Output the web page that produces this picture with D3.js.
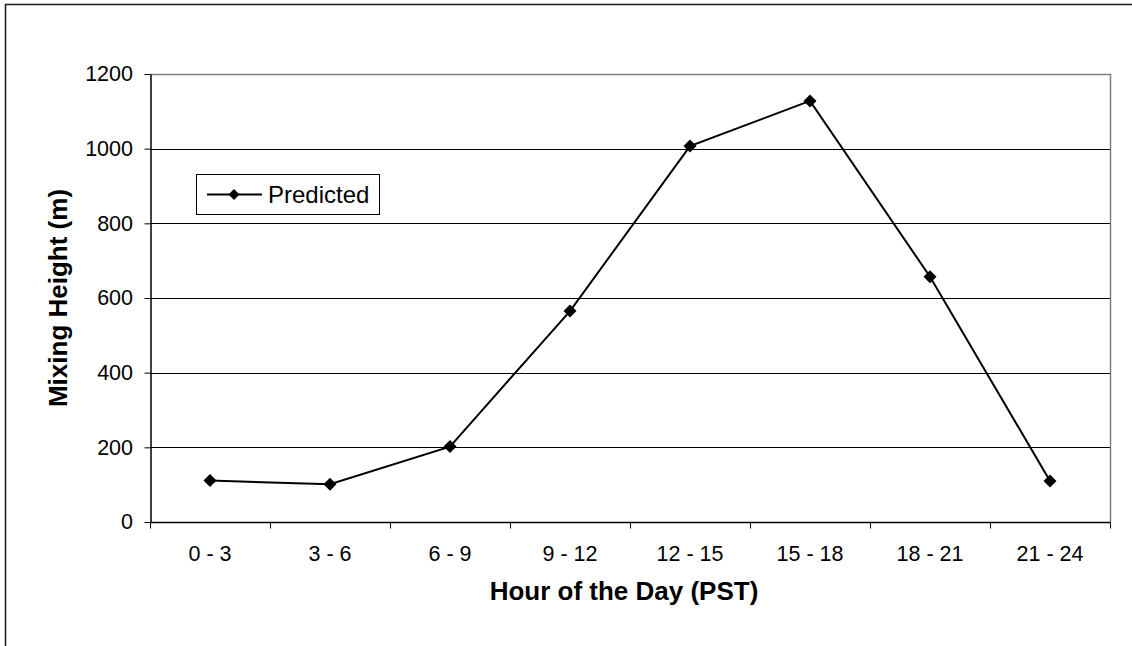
<!DOCTYPE html>
<html>
<head>
<meta charset="utf-8">
<script src="https://cdn.jsdelivr.net/npm/d3@7"></script>
<style>
  html, body { margin: 0; padding: 0; background: #fff; }
  svg { display: block; font-family: Arial, "Liberation Sans", sans-serif; }
</style>
</head>
<body>
<svg id="chart" width="1132" height="646"></svg>
<script>
// Mixing height by three-hour period
const periods = ["0 - 3", "3 - 6", "6 - 9", "9 - 12", "12 - 15", "15 - 18", "18 - 21", "21 - 24"];
const predicted = [111, 101, 202, 565, 1007, 1128, 657, 110];
const yTicks = [0, 200, 400, 600, 800, 1000, 1200];
const seriesName = "Predicted";

const FONT = "Arial, 'Liberation Sans', sans-serif";
const svg = d3.select("#chart");
const plot = { left: 150, right: 1110, top: 74, bottom: 522 };

// Outer chart frame
svg.append("rect")
  .attr("x", 5.5).attr("y", 4.5)
  .attr("width", 1140).attr("height", 660)
  .attr("fill", "none").attr("stroke", "#222").attr("stroke-width", 1.6);

const x = d3.scaleBand().domain(periods).range([plot.left, plot.right]);
const y = d3.scaleLinear().domain([0, 1200]).range([plot.bottom, plot.top]);

// Horizontal gridlines
svg.append("g").selectAll("line")
  .data(yTicks.filter(t => t > 0 && t < 1200))
  .join("line")
  .attr("x1", plot.left).attr("x2", plot.right)
  .attr("y1", d => Math.round(y(d)) + 0.5).attr("y2", d => Math.round(y(d)) + 0.5)
  .attr("stroke", "#000").attr("stroke-width", 1);

// Plot area top and right edges
svg.append("path")
  .attr("d", `M${plot.left},${plot.top + 0.5}H${plot.right + 0.5}V${plot.bottom}`)
  .attr("fill", "none").attr("stroke", "#808080").attr("stroke-width", 1.5);

// Y axis
const yAxis = svg.append("g")
  .attr("transform", `translate(${plot.left + 0.5},0)`)
  .call(d3.axisLeft(y).tickValues(yTicks).tickFormat(d3.format("d"))
    .tickSize(6).tickPadding(11.5).tickSizeOuter(0));
yAxis.attr("font-size", null).attr("font-family", null);
yAxis.select(".domain").attr("stroke", "#000").attr("stroke-width", 1.5);
yAxis.selectAll(".tick line").attr("stroke", "#000");
yAxis.selectAll("text").attr("font-size", 21.5).attr("fill", "#000")
  .attr("font-family", FONT);

// X axis with ticks at category boundaries
const xAxisG = svg.append("g")
  .attr("transform", `translate(0,${plot.bottom + 0.5})`);
xAxisG.append("line")
  .attr("x1", plot.left).attr("x2", plot.right + 0.5)
  .attr("stroke", "#000").attr("stroke-width", 1.5);
const bounds = periods.map(p => x(p)).concat([plot.right]);
xAxisG.selectAll(".btick").data(bounds).join("line")
  .attr("class", "btick")
  .attr("x1", d => Math.round(d) + 0.5).attr("x2", d => Math.round(d) + 0.5)
  .attr("y1", 0).attr("y2", 6)
  .attr("stroke", "#000");
xAxisG.selectAll("text").data(periods).join("text")
  .attr("x", d => x(d) + x.bandwidth() / 2)
  .attr("y", 38)
  .attr("text-anchor", "middle")
  .attr("font-size", 21.5)
  .attr("font-family", FONT)
  .text(d => d);

// Axis titles
svg.append("text")
  .attr("x", 624).attr("y", 600)
  .attr("text-anchor", "middle").attr("font-size", 26).attr("font-weight", "bold")
  .attr("font-family", FONT)
  .text("Hour of the Day (PST)");
svg.append("text")
  .attr("transform", `translate(67,${(plot.top + plot.bottom) / 2}) rotate(-90)`)
  .attr("text-anchor", "middle").attr("font-size", 26).attr("font-weight", "bold")
  .attr("font-family", FONT)
  .text("Mixing Height (m)");

// Series line and markers
const cx = d => x(d) + x.bandwidth() / 2;
const line = d3.line().x(d => cx(d.p)).y(d => y(d.v));
const pts = periods.map((p, i) => ({ p, v: predicted[i] }));
svg.append("path")
  .datum(pts)
  .attr("d", line)
  .attr("fill", "none").attr("stroke", "#000").attr("stroke-width", 2);

// Diamond marker with half-diagonal s
const diamondPath = s => `M0,${-s}L${s},0L0,${s}L${-s},0Z`;
svg.append("g").selectAll("path")
  .data(pts).join("path")
  .attr("transform", d => `translate(${cx(d.p)},${y(d.v)})`)
  .attr("d", diamondPath(6.5))
  .attr("fill", "#000");

// Legend
const lg = svg.append("g");
lg.append("rect")
  .attr("x", 196.5).attr("y", 174.5).attr("width", 183).attr("height", 40)
  .attr("fill", "#fff").attr("stroke", "#000").attr("stroke-width", 1);
lg.append("line")
  .attr("x1", 207).attr("x2", 262).attr("y1", 194.5).attr("y2", 194.5)
  .attr("stroke", "#000").attr("stroke-width", 2);
lg.append("path")
  .attr("transform", "translate(234,194.5)")
  .attr("d", diamondPath(5.5))
  .attr("fill", "#000");
lg.append("text")
  .attr("x", 268).attr("y", 203).attr("font-size", 24)
  .attr("font-family", FONT)
  .text(seriesName);
</script>
</body>
</html>
